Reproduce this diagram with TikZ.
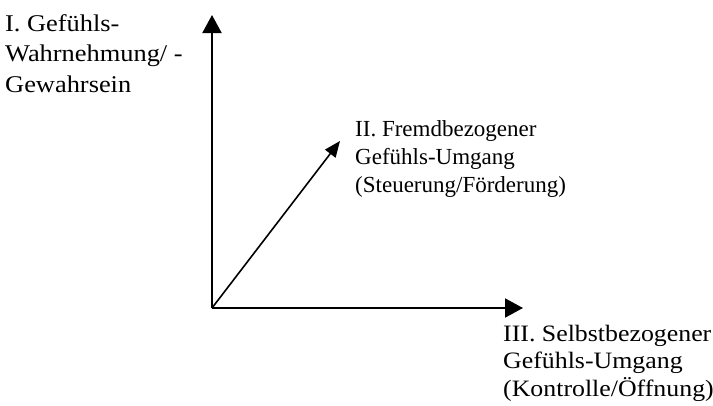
\documentclass[tikz,border=0pt]{standalone}
\usepackage{fontspec}
\setmainfont{Liberation Serif}
\newfontfamily\widefont[FakeStretch=1.1]{Liberation Serif}
\usetikzlibrary{arrows.meta}
\begin{document}
\begin{tikzpicture}[x=1pt,y=-1pt,
  axis/.style={line width=2pt,-{Triangle[length=18pt,width=19pt]}},
  diag/.style={line width=1.6pt,-{Triangle[length=16pt,width=13pt]}},
  lbl/.style={anchor=base west,align=left,inner sep=0pt,font=\fontsize{23}{29}\selectfont}]
\useasboundingbox (0,0) rectangle (713,405);
\fill[white] (0,0) rectangle (713,405);
\coordinate (O) at (212,308);
\coordinate (Y) at (212,15);
\coordinate (X) at (523,308);
\coordinate (D) at (340,141);
\draw[axis] (O) -- (Y);
\draw[axis] (O) -- (X);
\draw[diag] (O) -- (D);
\node[lbl,font=\widefont\fontsize{24}{30.5}\selectfont] (t1) at (5,92) {I. Gefühls-\\Wahrnehmung/ -\\Gewahrsein};
\node[lbl,font=\fontsize{23}{28}\selectfont] (t2) at (355,192) {II. Fremdbezogener\\Gefühls-Umgang\\(Steuerung/Förderung)};
\node[lbl,font=\widefont\fontsize{23.5}{27.5}\selectfont] (t3) at (503,396) {III. Selbstbezogener\\Gefühls-Umgang\\(Kontrolle/Öffnung)};
\end{tikzpicture}
\end{document}
